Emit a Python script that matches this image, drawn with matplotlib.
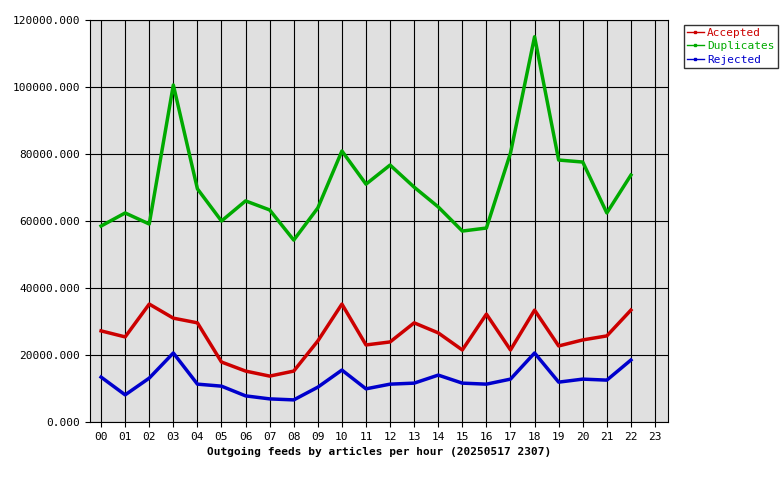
import matplotlib
matplotlib.use("Agg")
import matplotlib.pyplot as plt
from matplotlib.ticker import FuncFormatter

hours = [f"{h:02d}" for h in range(24)]
accepted = [27.2, 25.4, 35.2, 31.0, 29.6, 17.9, 15.2, 13.7, 15.2, 24.2, 35.2, 23.0, 23.9, 29.6, 26.6, 21.5, 32.2, 21.5, 33.4, 22.7, 24.5, 25.7, 33.4]
duplicates = [58.5, 62.4, 59.1, 100.6, 69.6, 60.0, 66.0, 63.3, 54.3, 63.9, 80.9, 71.0, 76.7, 70.1, 64.2, 57.0, 57.9, 80.3, 115.0, 78.2, 77.6, 62.4, 73.7]
rejected = [13.4, 8.1, 13.1, 20.6, 11.3, 10.7, 7.8, 6.9, 6.6, 10.4, 15.5, 9.9, 11.3, 11.6, 14.0, 11.6, 11.3, 12.8, 20.6, 11.9, 12.8, 12.5, 18.5]
series = [("Accepted", accepted, "#cc0000"), ("Duplicates", duplicates, "#00aa00"), ("Rejected", rejected, "#0000cc")]

plt.rcParams['font.family'] = ['DejaVu Sans Mono']
plt.rcParams['font.size'] = 8
fig = plt.figure(figsize=(7.8, 4.8), dpi=100)
ax = fig.add_axes([90/780, 1-422/480, (668-90)/780, (422-20)/480])
ax.set_facecolor("#e0e0e0")
x = list(range(len(hours)))
for name, vals, c in series:
    ax.plot(x[:len(vals)], [v*1000 for v in vals], color=c, lw=2.5, label=name)
ax.set_xlim(-0.46, 23.54)
ax.set_ylim(0, 120000)
ax.set_xticks(x)
ax.set_xticklabels(hours)
ax.set_yticks(range(0, 120001, 20000))
ax.yaxis.set_major_formatter(FuncFormatter(lambda v, p: f"{v:.3f}"))
ax.grid(True, color="black", lw=0.8)
ax.set_axisbelow(True)
ax.set_xlabel("Outgoing feeds by articles per hour (20250517 2307)", fontweight="bold")
leg = fig.legend(handles=[plt.Line2D([], [], color=c, lw=1, marker='s', markersize=2) for _, _, c in series],
                 labels=[n for n, _, _ in series], loc="upper left",
                 bbox_to_anchor=(678/780, 1-19/480), fancybox=False, edgecolor="black",
                 handlelength=1.5, borderpad=0.3, labelspacing=0.3, handletextpad=0.3)
for t, (_, _, c) in zip(leg.get_texts(), series):
    t.set_color(c)
fig.savefig("out.png", dpi=100)
